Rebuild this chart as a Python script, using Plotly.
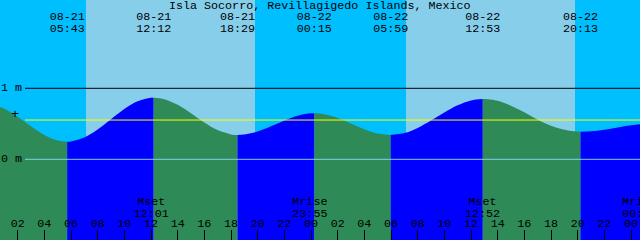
import plotly.graph_objects as go
from datetime import datetime, timedelta

# ---------------- data ----------------
title = "Isla Socorro, Revillagigedo Islands, Mexico"

# tide extremes (high / low)
event_time = ["2025-08-20 23:35", "2025-08-21 05:43", "2025-08-21 12:12", "2025-08-21 18:29",
              "2025-08-22 00:15", "2025-08-22 05:59", "2025-08-22 12:53", "2025-08-22 20:13",
              "2025-08-23 01:30"]
event_height = [0.776, 0.248, 0.868, 0.342, 0.648, 0.342, 0.849, 0.389, 0.500]
event_show_date = [False, True, True, True, True, True, True, True, True]

# hourly tide heights (m), starting 2025-08-21 00:00
sample_start = "2025-08-21 00:00"
sample_height = [0.770, 0.711, 0.600, 0.466, 0.344, 0.266, 0.251, 0.306, 0.419, 0.564,
                 0.708, 0.817, 0.867, 0.847, 0.768, 0.650, 0.520, 0.411, 0.350, 0.348,
                 0.391, 0.465, 0.547, 0.614, 0.647, 0.635, 0.583, 0.505, 0.424, 0.364,
                 0.342, 0.369, 0.442, 0.546, 0.660, 0.761, 0.829, 0.849, 0.823, 0.755,
                 0.662, 0.558, 0.472, 0.416, 0.390, 0.395, 0.417, 0.449, 0.479, 0.498]

# sun
sunrise = ["2025-08-21 07:07:30", "2025-08-22 07:07:30"]
sunset = ["2025-08-21 19:48", "2025-08-22 19:48"]

# moon
moon_time = ["2025-08-21 12:01", "2025-08-21 23:55", "2025-08-22 12:52", "2025-08-23 00:40"]
moon_kind = ["Mset", "Mrise", "Mset", "Mrise"]

mean_level = 0.553
level_lines = [1, 0]
level_labels = ["1 m", "0 m"]

# ---------------- layout constants ----------------
W, H = 640, 240
PX_PER_M = 71.0
Y_MAX = 159.3 / PX_PER_M
Y_MIN = Y_MAX - H / PX_PER_M
X_START = datetime(2025, 8, 21, 0, 40, 30)
X_END = X_START + timedelta(hours=48)
BOTTOM = -3.0

DEEP = "#00BFFF"
DAY = "#87CEEB"
FALL = "#2E8B57"
RISE = "#0000FF"
FONT = "Liberation Mono"
FS = 11.7


def P(s):
    fmt = "%Y-%m-%d %H:%M:%S" if s.count(":") == 2 else "%Y-%m-%d %H:%M"
    return datetime.strptime(s, fmt)


def ypx(px):
    return Y_MAX - px / PX_PER_M


ev_t = [P(s) for s in event_time]
s0 = P(sample_start)
samples = [(s0 + timedelta(hours=i), h) for i, h in enumerate(sample_height)]
points = sorted(samples + list(zip(ev_t, event_height)))

fig = go.Figure()

# water fills, green while falling, blue while rising
for i in range(len(ev_t) - 1):
    ta, tb = ev_t[i], ev_t[i + 1]
    seg = [(t, h) for t, h in points if ta <= t <= tb]
    color = FALL if event_height[i] > event_height[i + 1] else RISE
    fig.add_trace(go.Scatter(x=[ta, tb], y=[BOTTOM, BOTTOM], mode="lines",
                             line=dict(width=0), hoverinfo="skip", showlegend=False))
    fig.add_trace(go.Scatter(x=[p[0] for p in seg], y=[p[1] for p in seg], mode="lines",
                             line=dict(width=0, shape="spline", color=color),
                             fill="tonexty", fillcolor=color,
                             hoverinfo="skip", showlegend=False))

# tide event labels
date_txt = [t.strftime("%m-%d") if show else "" for t, show in zip(ev_t, event_show_date)]
time_txt = [t.strftime("%H:%M") for t in ev_t]
fig.add_trace(go.Scatter(x=ev_t, y=[ypx(17)] * len(ev_t), mode="text", text=date_txt,
                         textfont=dict(family=FONT, size=FS, color="black"),
                         cliponaxis=False, hoverinfo="skip", showlegend=False))
fig.add_trace(go.Scatter(x=ev_t, y=[ypx(29)] * len(ev_t), mode="text", text=time_txt,
                         textfont=dict(family=FONT, size=FS, color="black"),
                         cliponaxis=False, hoverinfo="skip", showlegend=False))

# moon labels
mt = [P(s) for s in moon_time]
fig.add_trace(go.Scatter(x=mt, y=[ypx(202)] * len(mt), mode="text", text=moon_kind,
                         textfont=dict(family=FONT, size=FS, color="black"),
                         cliponaxis=False, hoverinfo="skip", showlegend=False))
fig.add_trace(go.Scatter(x=mt, y=[ypx(214)] * len(mt), mode="text",
                         text=[t.strftime("%H:%M") for t in mt],
                         textfont=dict(family=FONT, size=FS, color="black"),
                         cliponaxis=False, hoverinfo="skip", showlegend=False))

shapes = []
for a, b in zip(sunrise, sunset):
    shapes.append(dict(type="rect", xref="x", yref="paper", x0=P(a), x1=P(b), y0=0, y1=1,
                       fillcolor=DAY, line=dict(width=0), layer="below"))
line_x0 = 25 / W
shapes.append(dict(type="line", xref="paper", yref="y", x0=line_x0, x1=1,
                   y0=level_lines[0], y1=level_lines[0], line=dict(color="black", width=1)))
shapes.append(dict(type="line", xref="paper", yref="y", x0=line_x0, x1=1,
                   y0=mean_level, y1=mean_level, line=dict(color="#FFFF00", width=1)))
shapes.append(dict(type="line", xref="paper", yref="y", x0=line_x0, x1=1,
                   y0=level_lines[1], y1=level_lines[1], line=dict(color=DAY, width=1)))

annotations = [dict(text=title, xref="paper", yref="paper", x=0.5, y=1 - 6 / H,
                    xanchor="center", yanchor="middle", showarrow=False,
                    font=dict(family=FONT, size=FS, color="black"))]
for v, lab in zip(level_lines, level_labels):
    annotations.append(dict(text=lab, xref="paper", yref="y", x=0, y=v, xanchor="left",
                            yanchor="middle", showarrow=False, xshift=-1,
                            font=dict(family=FONT, size=FS, color="black")))
annotations.append(dict(text="+", xref="paper", yref="y", x=15 / W, y=ypx(114),
                        xanchor="center", yanchor="middle", showarrow=False,
                        font=dict(family=FONT, size=FS + 2, color="black")))

fig.update_layout(
    width=W, height=H, margin=dict(l=0, r=0, t=0, b=0),
    plot_bgcolor=DEEP, paper_bgcolor=DEEP,
    showlegend=False, shapes=shapes, annotations=annotations,
    xaxis=dict(type="date", range=[X_START, X_END], showgrid=False, zeroline=False,
               showline=False, ticks="inside", ticklen=10, tickwidth=1, tickcolor="black",
               tick0="2025-08-21 00:00", dtick=2 * 3600 * 1000, tickformat="%H",
               ticklabelposition="inside", ticklabelstandoff=0,
               tickfont=dict(family=FONT, size=FS, color="black")),
    xaxis2=dict(type="date", range=[X_START, X_END], overlaying="x", anchor="y", side="bottom",
                showgrid=False, zeroline=False, showline=False, ticks="inside", ticklen=10,
                tickwidth=3, tickcolor="black", tick0="2025-08-21 00:00",
                dtick=24 * 3600 * 1000, showticklabels=False),
    yaxis=dict(range=[Y_MIN, Y_MAX], showgrid=False, zeroline=False, showline=False,
               showticklabels=False, ticks=""),
)

fig.write_html("out.html")
